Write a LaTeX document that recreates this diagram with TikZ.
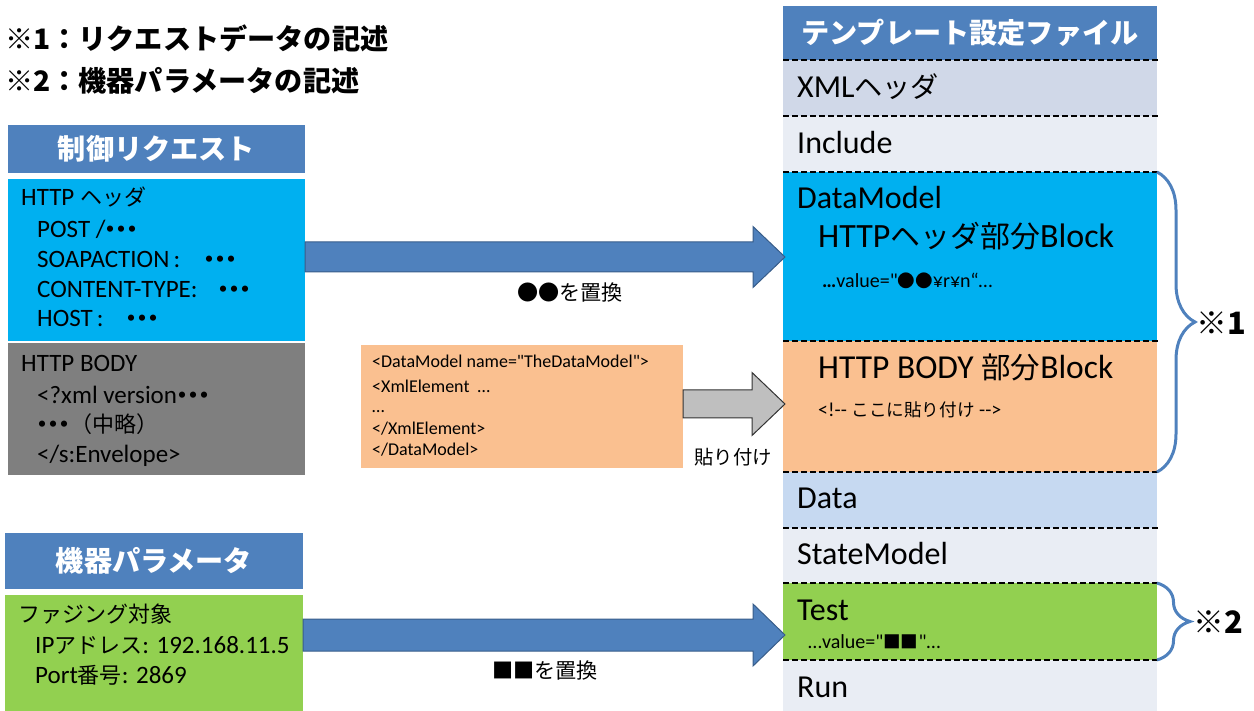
\documentclass[tikz,border=0pt]{standalone}
\usepackage{fontspec}
\setmainfont{Carlito}
\newfontfamily\jp[Scale=0.88]{Noto Sans CJK JP}
\usetikzlibrary{calc,decorations.pathreplacing}
\definecolor{hdrblue}{HTML}{4F81BD}
\definecolor{arrowedge}{HTML}{385D8A}
\definecolor{cyanfill}{HTML}{00B0F0}
\definecolor{grayfill}{HTML}{7F7F7F}
\definecolor{greenfill}{HTML}{92D050}
\definecolor{orangefill}{HTML}{FAC090}
\definecolor{xmlfill}{HTML}{D0D8E8}
\definecolor{plainfill}{HTML}{E9EDF4}
\definecolor{datafill}{HTML}{C6D9F1}
\definecolor{pastegray}{HTML}{BFBFBF}
\newcommand\J[1]{{\jp#1}}
\newcommand\onedot{\makebox[11pt]{\jp\bfseries ・}}
\newcommand\mdots{\onedot\onedot\onedot}
\newcommand\qq{\textquotedbl}
\newcommand\fs[1]{\fontsize{#1}{#1}\selectfont}
% block arrow: style, from, to, y, body half, head half, head length
\newcommand\blockarrow[7]{%
  \filldraw[#1] let \p1=(#2), \p2=(#3), \p3=(0,#4) in
    (\x1,\y3+#5) -- (\x2-#7,\y3+#5) -- (\x2-#7,\y3+#6) -- (\x2,\y3)
    -- (\x2-#7,\y3-#6) -- (\x2-#7,\y3-#5) -- (\x1,\y3-#5) -- cycle;}
\tikzset{
  plainbox/.style={rectangle,inner sep=0,outer sep=0,draw=none},
  titlebox/.style={plainbox,fill=hdrblue,text=white,font=\fs{32}\jp\bfseries},
  rowbox/.style={plainbox,minimum width=374},
  divider/.style={draw=black,line width=2pt,dash pattern=on 6pt off 3pt},
  heading/.style={anchor=west,inner sep=0,font=\fs{32}\jp\bfseries},
  ltxt/.style={anchor=base west,inner sep=0,font=\fs{25}},
  codetxt/.style={anchor=base west,inner sep=0,font=\fs{18}},
  rtxt/.style={anchor=base west,inner sep=0,font=\fs{32}},
  lbl/.style={inner sep=0,font=\fs{24}\jp},
  bluearrow/.style={fill=hdrblue,draw=arrowedge,line width=1pt},
  pastearrow/.style={fill=pastegray,draw=black!80,line width=1pt},
  bracestroke/.style={draw=hdrblue,line width=3pt,decorate,decoration={brace,amplitude=#1}}
}
\begin{document}
\begin{tikzpicture}[x=1pt,y=-1pt]
\useasboundingbox (0,0) rectangle (1254,711);

\node[heading] (note1) at (5,38) {※1：リクエストデータの記述};
\node[heading] (note2) at (5,81) {※2：機器パラメータの記述};

% left side
\node[titlebox,minimum width=297,minimum height=48,anchor=north west] (reqtitle) at (8,125) {制御リクエスト};
\node[plainbox,fill=cyanfill,minimum width=297,minimum height=162,anchor=north west] (reqhdr) at (8,179) {};
\node[plainbox,fill=grayfill,minimum width=297,minimum height=132,anchor=north west] (reqbody) at (8,343) {};
\node[titlebox,minimum width=298,minimum height=56,anchor=north west] (devtitle) at (5,533) {機器パラメータ};
\node[plainbox,fill=greenfill,minimum width=298,minimum height=116,anchor=north west] (fuzzbox) at (5,595) {};
\node[plainbox,fill=orangefill,minimum width=322,minimum height=123,anchor=north west] (codebox) at (361,345) {};

\foreach \xx/\yy/\tx [count=\i] in {21/206/{HTTP \J{ヘッダ}},37/238/{POST /\mdots},
  37/268/{SOAPACTION\,:\hspace{24pt}\mdots},37/298/{CONTENT-TYPE:\hspace{20pt}\mdots},
  37/327/{HOST\,:\hspace{22pt}\mdots},21/372/{HTTP BODY},37/403/{<?xml version\mdots},
  37/432/{\mdots\J{（中略）}},37/463/{</s:Envelope>},
  18/622/{\J{ファジング対象}},35/653/{IP\J{アドレス}: 192.168.11.5},35/683/{Port\J{番号}: 2869}}
  \node[ltxt] (leftline\i) at (\xx,\yy) {\tx};

\foreach \yy/\tx [count=\i] in {368/{<DataModel name=\qq TheDataModel\qq>},393/{<XmlElement\ \ …},
  413/{…},435/{</XmlElement>},455/{</DataModel>}}
  \node[codetxt] (codeline\i) at (372,\yy) {\tx};

% template file
\node[titlebox,minimum width=374,minimum height=54,anchor=north west] (tmpltitle) at (783,6) {テンプレート設定ファイル};
\foreach \nm/\ya/\yb/\col in {xmlrow/60/116/xmlfill,incrow/116/172/plainfill,dmrow/172/341/cyanfill,
  bodyrow/341/472/orangefill,datarow/472/528/datafill,staterow/528/583/plainfill,
  testrow/583/660/greenfill,runrow/660/711/plainfill}
  \node[rowbox,fill=\col,minimum height=\yb-\ya,anchor=north west] (\nm) at (783,\ya) {};
\foreach \nm in {xmlrow,incrow,dmrow,bodyrow,datarow,staterow,testrow,runrow}
  \draw[divider] (\nm.north west) -- ([xshift=2pt]\nm.north east);

\node[rtxt] (xmllbl) at (797,98) {XML\J{ヘッダ}};
\node[rtxt] (inclbl) at (797,154) {Include};
\node[rtxt] (dmlbl) at (797,209) {DataModel};
\node[rtxt,font=\fs{34}] (hdrblock) at (818,248) {HTTP\J{ヘッダ部分}Block};
\node[rtxt,font=\fs{20}] (hdrvalue) at (822,288) {{\bfseries…}value=\qq\J{●●}¥r¥n“…};
\node[rtxt,font=\fs{33.5}] (bodyblock) at (818,379) {HTTP BODY \J{部分}Block};
\node[rtxt,font=\fs{20}] (pastehere) at (818,417) {<!-{}- \J{ここに貼り付け} -{}->};
\node[rtxt] (datalbl) at (797,508) {Data};
\node[rtxt] (statelbl) at (797,564) {StateModel};
\node[rtxt] (testlbl) at (797,620) {Test};
\node[rtxt,font=\fs{20}] (testvalue) at (808,648) {…value=\qq\J{■■}\qq…};
\node[rtxt] (runlbl) at (797,697) {Run};

% arrows
\blockarrow{bluearrow}{reqhdr.east}{[xshift=2pt]dmrow.west}{257}{15}{30.5}{32}
\blockarrow{bluearrow}{fuzzbox.east}{[xshift=2pt]testrow.west}{635}{16}{31}{32}
\blockarrow{pastearrow}{codebox.east}{[xshift=2pt]bodyrow.west}{404}{14}{31.5}{33}
\node[lbl] (replace1) at (570,292) {●●を置換};
\node[lbl] (replace2) at (545,670) {■■を置換};
\node[lbl,font=\fs{22}\jp] (paste) at (733,457) {貼り付け};

% braces
\draw[bracestroke=38pt] (dmrow.north east) -- (bodyrow.south east);
\draw[bracestroke=33pt] (testrow.north east) -- (testrow.south east);
\node[heading,font=\fs{35}\jp\bfseries] (mark1) at (1196,323) {※1};
\node[heading,font=\fs{35}\jp\bfseries] (mark2) at (1193,622) {※2};
\end{tikzpicture}
\end{document}
